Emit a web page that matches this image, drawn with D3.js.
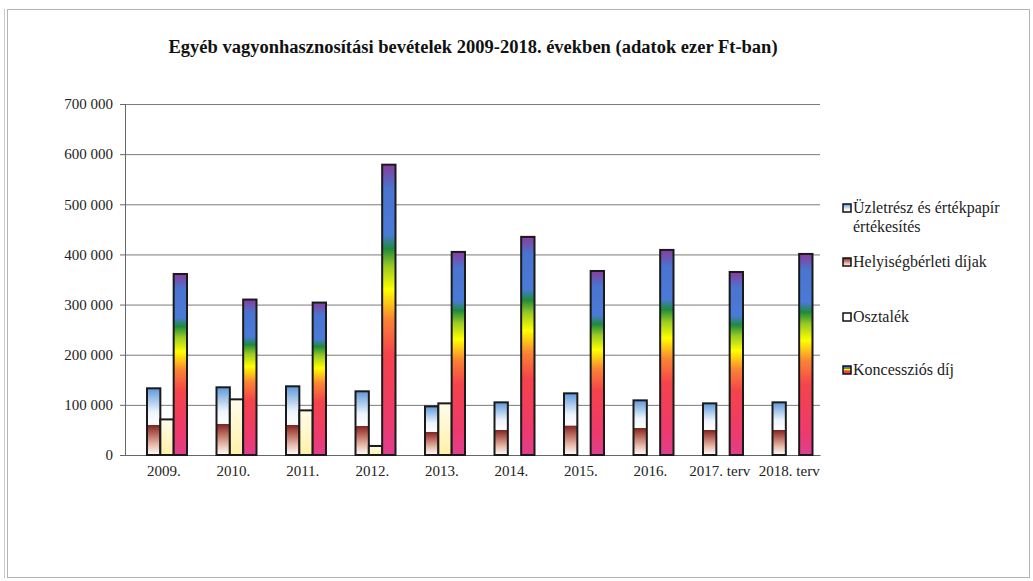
<!DOCTYPE html>
<html lang="hu">
<head>
<meta charset="UTF-8" />
<title>Egyéb vagyonhasznosítási bevételek</title>
<script src="https://d3js.org/d3.v7.min.js"></script>
<style>
  body { margin: 0; background: #fff; }
  svg { display: block; }
  svg text { font-family: "Liberation Serif", "Times New Roman", "DejaVu Serif", serif !important; }
</style>
</head>
<body>
<svg width="1033" height="581"></svg>
<script>
// adatok ezer Ft-ban
const years = ["2009.", "2010.", "2011.", "2012.", "2013.", "2014.", "2015.", "2016.", "2017. terv", "2018. terv"];
const helyiseg = [60000, 62000, 60000, 58000, 46000, 50000, 59000, 54000, 50000, 50000];
const uzletresz = [73000, 73000, 77000, 69000, 51000, 55000, 64000, 55000, 53000, 55000];
const osztalek = [71000, 111000, 89000, 18000, 103000, 0, 0, 0, 0, 0];
const koncesszio = [361000, 310000, 304000, 579000, 405000, 435000, 367000, 409000, 365000, 401000];
const yTicks = [0, 100000, 200000, 300000, 400000, 500000, 600000, 700000];
const legendLabels = [["Üzletrész és értékpapír", "értékesítés"], ["Helyiségbérleti díjak"], ["Osztalék"], ["Koncessziós díj"]];

const svg = d3.select("svg");
const plotLeft = 125, plotRight = 820, plotTop = 104, plotBottom = 455;

// frame of the pasted chart
svg.append("rect").attr("x", 7.5).attr("y", 9.5).attr("width", 1022).attr("height", 568)
  .attr("fill", "none").attr("stroke", "#b4b4b4");
svg.append("line").attr("x1", 4.5).attr("x2", 4.5).attr("y1", 9).attr("y2", 578)
  .attr("stroke", "#c8c8c8");

const defs = svg.append("defs");
function grad(id, stops) {
  const g = defs.append("linearGradient").attr("id", id)
    .attr("x1", 0).attr("y1", 1).attr("x2", 0).attr("y2", 0);
  stops.forEach(s => g.append("stop").attr("offset", s[0]).attr("stop-color", s[1]));
}
grad("gBlue", [[0, "#ffffff"], [0.35, "#eef5fc"], [1, "#5f98da"]]);
grad("gBrown", [[0, "#ffffff"], [0.35, "#e6b8a8"], [0.75, "#b05a50"], [1, "#7a2424"]]);
grad("gYellow", [[0, "#fff1a8"], [1, "#fffcec"]]);
grad("gRainbow", [[0, "#df3f8e"], [0.12, "#ee3a6c"], [0.35, "#f5434b"], [0.47, "#fa8534"],
  [0.57, "#ffff00"], [0.65, "#9acb24"], [0.71, "#1f8b3b"], [0.76, "#4a7ad8"], [0.92, "#4a74d0"], [1, "#8a3c9c"]]);

const x = d3.scaleBand().domain(years).range([plotLeft, plotRight]);
const slot = d3.scaleBand().domain(["stack", "osz", "konc"]).range([22, 62]);
const y = d3.scaleLinear().domain([0, 700000]).range([plotBottom, plotTop]);
const fmt = d3.formatLocale({ decimal: ",", thousands: " ", grouping: [3], currency: ["", ""] }).format(",");

// gridlines
svg.append("g").attr("transform", `translate(${plotLeft},0)`)
  .call(d3.axisLeft(y).tickValues(yTicks).tickSize(-(plotRight - plotLeft)).tickFormat(""))
  .call(g => g.select(".domain").remove())
  .call(g => g.selectAll("line").attr("stroke", "#7a7a7a"));

// y axis
svg.append("g").attr("transform", `translate(${plotLeft},0)`)
  .call(d3.axisLeft(y).tickValues(yTicks).tickSize(5).tickPadding(7).tickFormat(fmt))
  .call(g => g.selectAll("line, path").attr("stroke", "#666"))
  .call(g => g.selectAll("text").attr("font-size", 15).attr("fill", "#222"));

// x axis
svg.append("g").attr("transform", `translate(0,${plotBottom})`)
  .call(d3.axisBottom(x).tickSize(0).tickPadding(10))
  .call(g => g.select(".domain").attr("stroke", "#666"))
  .call(g => g.selectAll("text").attr("font-size", 15).attr("fill", "#222").attr("dx", 4));

const rows = years.map((yr, i) => ({ yr, helyiseg: helyiseg[i], uzletresz: uzletresz[i], osztalek: osztalek[i], koncesszio: koncesszio[i] }));
const stacked = d3.stack().keys(["helyiseg", "uzletresz"])(rows);
const fills = { helyiseg: "url(#gBrown)", uzletresz: "url(#gBlue)" };

stacked.forEach(layer => {
  svg.append("g").selectAll("rect").data(layer).join("rect")
    .attr("x", d => x(d.data.yr) + slot("stack"))
    .attr("width", slot.bandwidth())
    .attr("y", d => y(d[1]))
    .attr("height", d => y(d[0]) - y(d[1]))
    .attr("fill", fills[layer.key]);
});
// outline of the stacked column
svg.append("g").selectAll("rect").data(rows).join("rect")
  .attr("x", d => x(d.yr) + slot("stack"))
  .attr("width", slot.bandwidth())
  .attr("y", d => y(d.helyiseg + d.uzletresz))
  .attr("height", d => plotBottom - y(d.helyiseg + d.uzletresz))
  .attr("fill", "none").attr("stroke", "#1a1a1a").attr("stroke-width", 2);

svg.append("g").selectAll("rect").data(rows.filter(d => d.osztalek > 0)).join("rect")
  .attr("x", d => x(d.yr) + slot("osz"))
  .attr("width", slot.bandwidth())
  .attr("y", d => y(d.osztalek))
  .attr("height", d => plotBottom - y(d.osztalek))
  .attr("fill", "url(#gYellow)").attr("stroke", "#1a1a1a").attr("stroke-width", 2);

svg.append("g").selectAll("rect").data(rows).join("rect")
  .attr("x", d => x(d.yr) + slot("konc"))
  .attr("width", slot.bandwidth())
  .attr("y", d => y(d.koncesszio))
  .attr("height", d => plotBottom - y(d.koncesszio))
  .attr("fill", "url(#gRainbow)").attr("stroke", "#1a1a1a").attr("stroke-width", 2);

// title
svg.append("text").attr("x", 473).attr("y", 53).attr("text-anchor", "middle")
  .attr("font-size", 18.5).attr("font-weight", "bold").attr("fill", "#111")
  .text("Egyéb vagyonhasznosítási bevételek 2009-2018. években (adatok ezer Ft-ban)");

// legend
const legendFills = ["url(#gBlue)", "url(#gBrown)", "#ffffff", "url(#gRainbow)"];
const legendY = [208, 262, 317, 370];
const lg = svg.append("g").selectAll("g").data(legendLabels).join("g")
  .attr("transform", (d, i) => `translate(843,${legendY[i]})`);
lg.append("rect").attr("x", 0).attr("y", -4).attr("width", 8).attr("height", 8)
  .attr("fill", (d, i) => legendFills[i]).attr("stroke", "#111").attr("stroke-width", 1.5);
lg.append("text").attr("x", 10).attr("y", 5).attr("font-size", 16).attr("fill", "#222")
  .selectAll("tspan").data(d => d).join("tspan")
  .attr("x", 10).attr("dy", (d, i) => i === 0 ? 0 : 19).text(d => d);
</script>
</body>
</html>
